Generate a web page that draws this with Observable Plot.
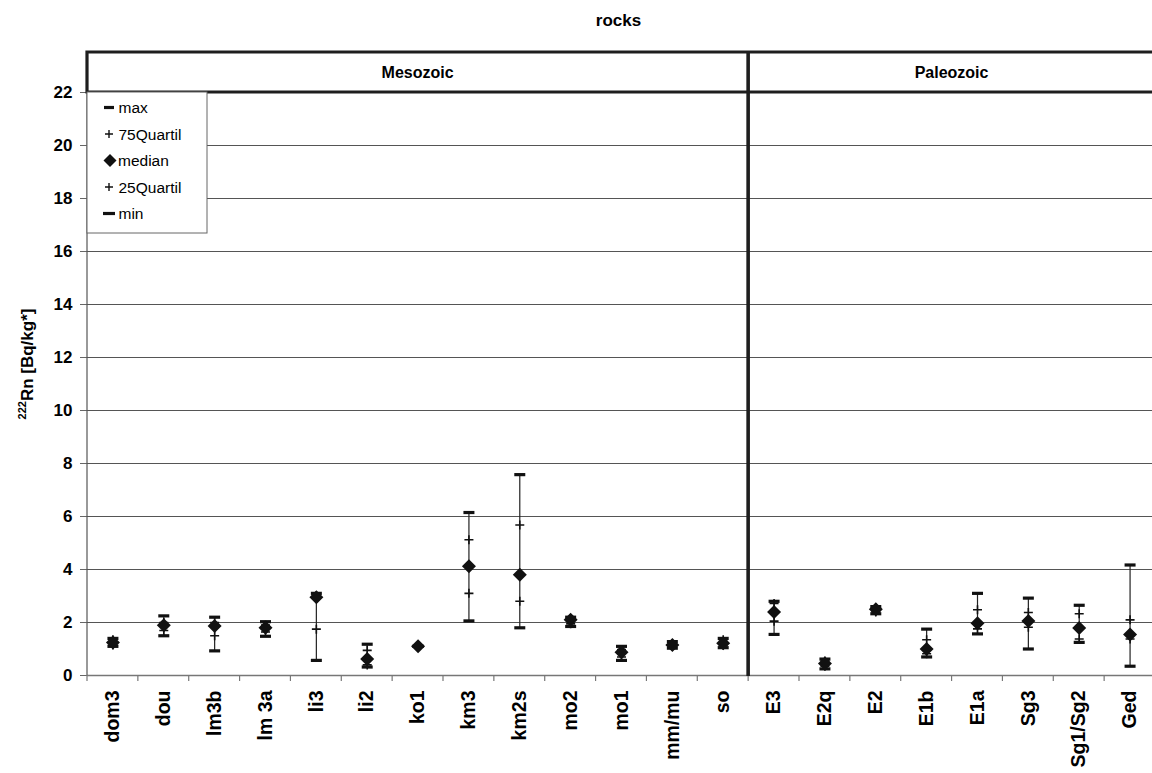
<!DOCTYPE html>
<html>
<head>
<meta charset="utf-8">
<script src="https://cdn.jsdelivr.net/npm/d3@7"></script>
<script src="https://cdn.jsdelivr.net/npm/@observablehq/plot@0.6"></script>
<style>
  body { margin: 0; background: #fff; }
  #chart { width: 1152px; height: 773px; }
  #chart svg { display: block; }
</style>
</head>
<body>
<div id="chart"></div>
<script>
// Radon values (box statistics) per rock unit, grouped by era
const mesozoic = ["dom3", "dou", "lm3b", "lm 3a", "li3", "li2", "ko1", "km3", "km2s", "mo2", "mo1", "mm/mu", "so"];
const paleozoic = ["E3", "E2q", "E2", "E1b", "E1a", "Sg3", "Sg1/Sg2", "Ged"];
const categories = [...mesozoic, ...paleozoic];
const groupNames = ["Mesozoic", "Paleozoic"];

const maxValues    = [1.40, 2.25, 2.20, 2.03, 3.10, 1.18, 1.10, 6.15, 7.58, 2.20, 1.10, 1.28, 1.40,  2.80, 0.62, 2.60, 1.75, 3.10, 2.92, 2.65, 4.17];
const q75Values    = [1.35, 2.00, 2.00, 1.90, 3.00, 0.95, 1.10, 5.12, 5.68, 2.15, 0.98, 1.20, 1.35,  2.72, 0.55, 2.55, 1.35, 2.48, 2.38, 2.33, 2.10];
const medianValues = [1.25, 1.90, 1.87, 1.80, 2.95, 0.62, 1.10, 4.12, 3.80, 2.10, 0.88, 1.15, 1.22,  2.40, 0.45, 2.50, 1.00, 1.97, 2.06, 1.79, 1.55];
const q25Values    = [1.15, 1.70, 1.50, 1.64, 1.75, 0.40, 1.10, 3.10, 2.80, 1.95, 0.70, 1.10, 1.15,  2.05, 0.35, 2.40, 0.82, 1.76, 1.82, 1.38, 1.38];
const minValues    = [1.10, 1.50, 0.93, 1.48, 0.57, 0.32, 1.10, 2.06, 1.80, 1.85, 0.57, 1.03, 1.05,  1.55, 0.25, 2.33, 0.70, 1.57, 1.00, 1.25, 0.35];

const yTicks = [0, 2, 4, 6, 8, 10, 12, 14, 16, 18, 20, 22];
const legendLabels = ["max", "75Quartil", "median", "25Quartil", "min"];
const titleText = "rocks";

const rows = categories.map((cat, i) => ({
  cat,
  max: maxValues[i],
  q75: q75Values[i],
  median: medianValues[i],
  q25: q25Values[i],
  min: minValues[i]
}));

// Marker shapes: a short thick bar for extremes, a thin cross for quartiles, a square diamond for the median
const barSymbol = {
  draw(ctx, size) {
    const r = Math.sqrt(size / Math.PI);
    ctx.rect(-r, -1.6, 2 * r, 3.2);
  }
};
const crossSymbol = {
  draw(ctx, size) {
    const r = Math.sqrt(size / Math.PI);
    ctx.moveTo(-r, 0); ctx.lineTo(r, 0);
    ctx.moveTo(0, -r); ctx.lineTo(0, r);
  }
};
const diamondSymbol = {
  draw(ctx, size) {
    const r = Math.sqrt(size / Math.PI);
    ctx.moveTo(0, -r); ctx.lineTo(r, 0); ctx.lineTo(0, r); ctx.lineTo(-r, 0); ctx.closePath();
  }
};

const FONT = "'Liberation Sans', Arial, Helvetica, sans-serif";
const W = 1152, H = 773;
const mLeft = 87, mTop = 92, mBottom = 98;

const plot = Plot.plot({
  width: W,
  height: H,
  marginLeft: mLeft,
  marginRight: 0,
  marginTop: mTop,
  marginBottom: mBottom,
  style: { fontFamily: FONT, background: "#fff", color: "#000", overflow: "visible" },
  x: { type: "band", domain: categories, range: [mLeft, 1155], padding: 0, round: false },
  y: { domain: [0, 22], ticks: yTicks },
  marks: [
    Plot.gridY(yTicks, { stroke: "#555", strokeOpacity: 1, strokeWidth: 1 }),
    Plot.ruleY([0], { stroke: "#777", strokeWidth: 1.5 }),
    Plot.axisY({ ticks: yTicks, tickSize: 7, tickPadding: 8, fontSize: 17, fontWeight: "bold", stroke: "#666", label: null }),
    Plot.axisX({ tickSize: 0, tickPadding: 15, tickRotate: -90, fontSize: 19.5, fontWeight: "bold", label: null }),
    Plot.ruleX(rows, { x: "cat", y1: "min", y2: "max", stroke: "#222", strokeWidth: 1.2 }),
    Plot.dot(rows, { x: "cat", y: "max", symbol: barSymbol, r: 5.5, fill: "#111", stroke: null }),
    Plot.dot(rows, { x: "cat", y: "min", symbol: barSymbol, r: 5.5, fill: "#111", stroke: null }),
    Plot.dot(rows, { x: "cat", y: "q75", symbol: crossSymbol, r: 4.5, fill: "none", stroke: "#111", strokeWidth: 1.6 }),
    Plot.dot(rows, { x: "cat", y: "q25", symbol: crossSymbol, r: 4.5, fill: "none", stroke: "#111", strokeWidth: 1.6 }),
    Plot.dot(rows, { x: "cat", y: "median", symbol: diamondSymbol, r: 7, fill: "#111", stroke: null })
  ]
});

document.getElementById("chart").appendChild(plot);

// Decorations drawn with the plot's own scales
const sx = plot.scale("x");
const sy = plot.scale("y");
const bw = sx.bandwidth;
const svg = d3.select(plot);
const yTop = sy.apply(22), yBottom = sy.apply(0);
const xLeft = sx.apply(categories[0]);
const xSplit = sx.apply(paleozoic[0]);
const headerTop = yTop - 40;

const deco = svg.append("g").attr("font-family", FONT).attr("text-anchor", "start");

// left axis line inside the plot area
deco.append("line")
  .attr("x1", xLeft).attr("x2", xLeft).attr("y1", yTop).attr("y2", yBottom)
  .attr("stroke", "#555").attr("stroke-width", 1.2);

// tick marks at the band boundaries along the bottom
categories.forEach((c) => {
  const bx = sx.apply(c);
  deco.append("line")
    .attr("x1", bx).attr("x2", bx).attr("y1", yBottom).attr("y2", yBottom + 6)
    .attr("stroke", "#777").attr("stroke-width", 1.2);
});

// era header strip
deco.append("path")
  .attr("d", `M${W + 5},${headerTop}H${xLeft}V${yTop}H${W + 5}`)
  .attr("fill", "none").attr("stroke", "#1e1e1e").attr("stroke-width", 3.2);
deco.append("line")
  .attr("x1", xSplit).attr("x2", xSplit).attr("y1", headerTop).attr("y2", yBottom + 1)
  .attr("stroke", "#1e1e1e").attr("stroke-width", 3.6);

const groups = [mesozoic, paleozoic];
groups.forEach((g, gi) => {
  const x0 = sx.apply(g[0]);
  const x1 = sx.apply(g[g.length - 1]) + bw;
  deco.append("text")
    .attr("x", (x0 + x1) / 2).attr("y", (headerTop + yTop) / 2 + 6)
    .attr("text-anchor", "middle").attr("font-size", 16).attr("font-weight", "bold")
    .text(groupNames[gi]);
});

// title
deco.append("text")
  .attr("x", (xLeft + W) / 2 - 1).attr("y", 26)
  .attr("text-anchor", "middle").attr("font-size", 17).attr("font-weight", "bold")
  .text(titleText);

// y-axis title with superscript mass number
const yl = deco.append("text")
  .attr("transform", `translate(33,364) rotate(-90)`)
  .attr("text-anchor", "middle").attr("font-weight", "bold").attr("font-size", 17);
yl.append("tspan").attr("font-size", 11).attr("dy", -7).text("222");
yl.append("tspan").attr("dy", 7).text("Rn [Bq/kg*]");

// legend box
const lg = deco.append("g").attr("transform", `translate(${xLeft},${yTop})`);
lg.append("rect").attr("x", 0).attr("y", 0).attr("width", 120).attr("height", 141)
  .attr("fill", "#fff").attr("stroke", "#666").attr("stroke-width", 1);
const legendShapes = [barSymbol, crossSymbol, diamondSymbol, crossSymbol, barSymbol];
const legendSizes = [5, 4, 6.5, 4, 6];
legendLabels.forEach((lab, i) => {
  const cy = 15.5 + i * 26.5;
  const sym = legendShapes[i];
  const p = d3.path();
  sym.draw(p, Math.PI * legendSizes[i] * legendSizes[i]);
  const isCross = sym === crossSymbol;
  lg.append("path")
    .attr("transform", `translate(${i === 2 ? 23 : 22},${cy})`)
    .attr("d", p.toString())
    .attr("fill", isCross ? "none" : "#111")
    .attr("stroke", isCross ? "#111" : "none")
    .attr("stroke-width", 1.4);
  lg.append("text")
    .attr("x", i === 2 ? 31 : 31.5).attr("y", cy + 5.5)
    .attr("text-anchor", "start")
    .attr("font-size", 15.5)
    .text(lab);
});
</script>
</body>
</html>
